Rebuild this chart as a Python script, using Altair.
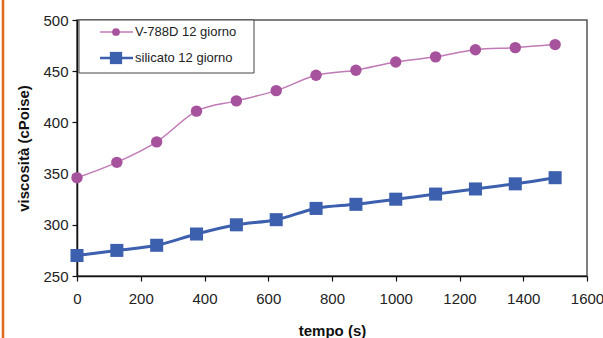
import altair as alt
import pandas as pd

tempo = [0, 125, 250, 375, 500, 625, 750, 875, 1000, 1125, 1250, 1375, 1500]
v788d = [346, 361, 381, 411, 421, 431, 446, 451, 459, 464, 471, 473, 476]
silicato = [270, 275, 280, 291, 300, 305, 316, 320, 325, 330, 335, 340, 346]
series_names = ["V-788D 12 giorno", "silicato 12 giorno"]
x_ticks = [0, 200, 400, 600, 800, 1000, 1200, 1400, 1600]
y_ticks = [250, 300, 350, 400, 450, 500]

PURPLE = "#a7529c"
PURPLE_LINE = "#c07ab5"
BLUE = "#3c5fae"
FONT = "Liberation Sans"

df_v = pd.DataFrame({"tempo": tempo, "visc": v788d})
df_s = pd.DataFrame({"tempo": tempo, "visc": silicato})

xs = alt.X("tempo:Q", scale=alt.Scale(domain=[0, 1600], nice=False),
           axis=alt.Axis(values=x_ticks, title="tempo (s)", grid=False, format="d",
                         labelFlush=False, labelOverlap=False, labelBound=False))
ys = alt.Y("visc:Q", scale=alt.Scale(domain=[250, 500], nice=False, zero=False),
           axis=alt.Axis(values=y_ticks, title="viscosità (cPoise)", grid=False, format="d",
                         labelFlush=False, labelOverlap=False))

line_v = alt.Chart(df_v).mark_line(color=PURPLE_LINE, strokeWidth=1.5, interpolate="monotone").encode(x=xs, y=ys)
pts_v = alt.Chart(df_v).mark_point(shape="circle", filled=True, color=PURPLE, size=130, opacity=1).encode(x=xs, y=ys)
line_s = alt.Chart(df_s).mark_line(color=BLUE, strokeWidth=3, interpolate="monotone").encode(x=xs, y=ys)
pts_s = alt.Chart(df_s).mark_point(shape="square", filled=True, color=BLUE, size=170, opacity=1).encode(x=xs, y=ys)

one = pd.DataFrame({"k": [0]})
leg_box = alt.Chart(one).mark_rect(fill="white", stroke="#444", strokeWidth=1).encode(
    x=alt.value(2), x2=alt.value(177), y=alt.value(0), y2=alt.value(53))
leg_l1 = alt.Chart(one).mark_rule(color=PURPLE_LINE, strokeWidth=1.5).encode(
    x=alt.value(23), x2=alt.value(56), y=alt.value(12))
leg_p1 = alt.Chart(one).mark_point(shape="circle", filled=True, color=PURPLE, size=60, opacity=1).encode(
    x=alt.value(39), y=alt.value(12))
leg_t1 = alt.Chart(one).mark_text(align="left", baseline="middle", font=FONT, fontSize=13, color="#222").encode(
    x=alt.value(58), y=alt.value(12), text=alt.value(series_names[0]))
leg_l2 = alt.Chart(one).mark_rule(color=BLUE, strokeWidth=2.5).encode(
    x=alt.value(23), x2=alt.value(56), y=alt.value(38))
leg_p2 = alt.Chart(one).mark_point(shape="square", filled=True, color=BLUE, size=150, opacity=1).encode(
    x=alt.value(39), y=alt.value(38))
leg_t2 = alt.Chart(one).mark_text(align="left", baseline="middle", font=FONT, fontSize=13, color="#222").encode(
    x=alt.value(58), y=alt.value(38), text=alt.value(series_names[1]))

orange = alt.Chart(one).mark_rule(color="#e06a1a", strokeWidth=2.5).encode(
    x=alt.value(-74), y=alt.value(-20), y2=alt.value(318))

chart = alt.layer(
    line_v, pts_v, line_s, pts_s,
    leg_box, leg_l1, leg_p1, leg_t1, leg_l2, leg_p2, leg_t2, orange
).properties(
    width=510, height=256,
    autosize=alt.AutoSizeParams(type="none"),
    padding={"left": 77, "top": 20, "right": 16, "bottom": 62},
).configure_view(
    stroke="#555", strokeWidth=1.5
).configure_axis(
    domainColor="#111", domainWidth=1.5, tickColor="#111", tickSize=5, tickWidth=1.2,
    labelFont=FONT, labelFontSize=15, labelColor="#222",
    titleFont=FONT, titleFontSize=15, titleFontWeight="bold", titleColor="#111",
).configure_axisX(
    labelPadding=10, titlePadding=17
).configure_axisY(
    labelPadding=4, titlePadding=11
)

chart.save("out.html", embed_options={"renderer": "svg", "actions": False})
